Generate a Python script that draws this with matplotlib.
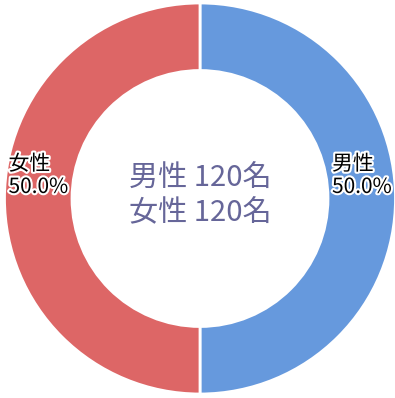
import matplotlib

matplotlib.use("Agg")

import matplotlib.pyplot as plt
import matplotlib.patheffects as pe
import numpy as np

plt.rcParams["font.family"] = ["Noto Sans CJK JP", "DejaVu Sans"]

labels = ["男性", "女性"]
counts = [120, 120]
colors = ["#6699dd", "#dd6666"]

W, H = 395, 398
cx, cy = 200, H - 198.5
r_out = 195.5
r_in = 128

fig = plt.figure(figsize=(W / 100, H / 100), dpi=100)
ax = fig.add_axes([0, 0, 1, 1])

wedges, _ = ax.pie(
    counts, colors=colors, startangle=90, counterclock=False,
    center=(cx, cy), radius=r_out, frame=True,
    wedgeprops=dict(width=r_out - r_in, edgecolor="white", linewidth=2),
)
ax.set_xlim(0, W)
ax.set_ylim(0, H)
ax.set_aspect("equal")
ax.axis("off")

# labels sit on the middle of the ring, a little above each wedge's mid-angle
total = sum(counts)
r_mid = (r_out + r_in) / 2
for w, name, n in zip(wedges, labels, counts):
    ang = np.deg2rad((w.theta1 + w.theta2) / 2)
    x = cx + r_mid * np.cos(ang)
    y = cy + r_mid * np.sin(ang) + 23
    ax.text(x, y, f"{name}\n{n / total * 100:.1f}%", ha="center", va="center",
            multialignment="left", fontsize=15, color="black", linespacing=1.05,
            path_effects=[pe.withStroke(linewidth=3, foreground="white")])

summary = "\n".join(f"{name} {n}名" for name, n in zip(labels, counts))
ax.text(cx, cy + 2.5, summary, ha="center", va="center", fontsize=21,
        color="#666699", linespacing=1.2)

fig.savefig("out.png", dpi=100)
